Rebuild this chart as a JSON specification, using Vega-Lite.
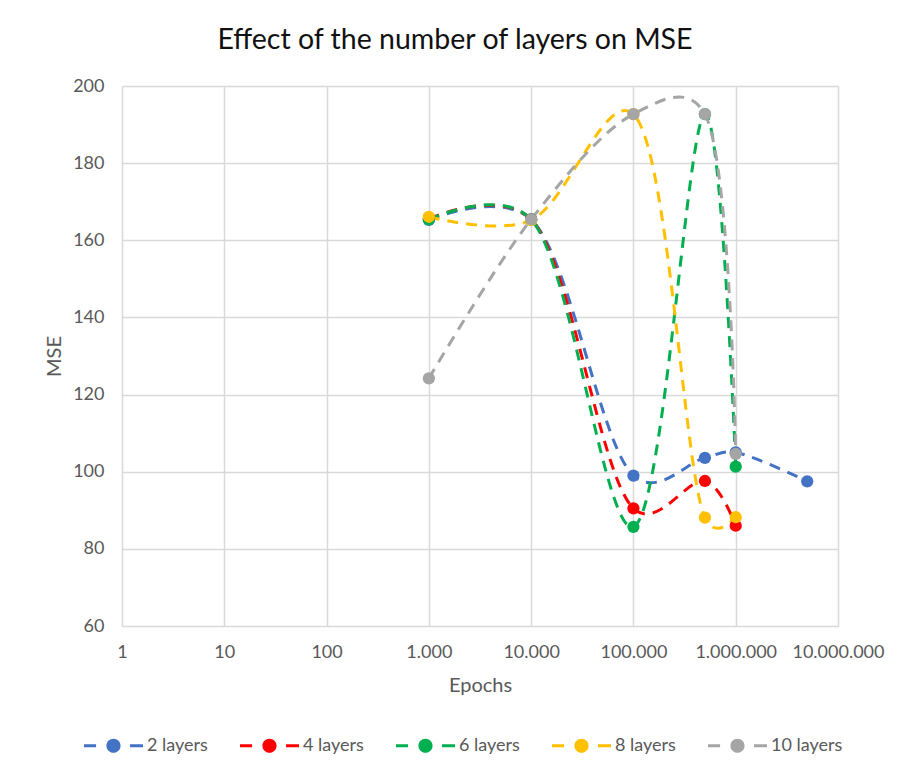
{
  "$schema": "https://vega.github.io/schema/vega-lite/v6.json",
  "width": 716,
  "height": 540,
  "autosize": {"type": "none"},
  "padding": {"left": 122, "top": 86, "right": 63, "bottom": 147},
  "background": "white",
  "config": {
    "font": "Lato",
    "view": {"stroke": null},
    "locale": {
      "number": {"decimal": ",", "thousands": ".", "grouping": [3], "currency": ["", " €"]}
    },
    "axis": {
      "labelColor": "#595959",
      "titleColor": "#595959",
      "labelFont": "Lato",
      "titleFont": "Lato",
      "labelFontSize": 18,
      "titleFontSize": 20,
      "titleFontWeight": "normal",
      "gridColor": "#D9D9D9",
      "gridWidth": 1.5,
      "domain": false,
      "ticks": false,
      "labelOverlap": false,
      "labelBound": false,
      "labelFlush": false
    },
    "legend": {
      "orient": "none",
      "legendX": -38,
      "legendY": 630,
      "direction": "horizontal",
      "labelFont": "Lato",
      "labelFontSize": 18,
      "labelColor": "#595959",
      "labelOffset": 4,
      "columnPadding": 32,
      "padding": 0
    }
  },
  "title": {
    "text": "Effect of the number of layers on MSE",
    "font": "Lato",
    "fontSize": 28.5,
    "fontWeight": "normal",
    "color": "#111111",
    "anchor": "middle",
    "dx": -25,
    "offset": 23
  },
  "data": {
    "values": [
      {"series": "2 layers", "epochs": 1000, "mse": 165.3},
      {"series": "2 layers", "epochs": 10000, "mse": 165.4},
      {"series": "2 layers", "epochs": 100000, "mse": 99.0},
      {"series": "2 layers", "epochs": 500000, "mse": 103.6},
      {"series": "2 layers", "epochs": 1000000, "mse": 105.0},
      {"series": "2 layers", "epochs": 5000000, "mse": 97.5},
      {"series": "4 layers", "epochs": 1000, "mse": 165.6},
      {"series": "4 layers", "epochs": 10000, "mse": 165.4},
      {"series": "4 layers", "epochs": 100000, "mse": 90.5},
      {"series": "4 layers", "epochs": 500000, "mse": 97.6},
      {"series": "4 layers", "epochs": 1000000, "mse": 86.0},
      {"series": "6 layers", "epochs": 1000, "mse": 165.4},
      {"series": "6 layers", "epochs": 10000, "mse": 165.4},
      {"series": "6 layers", "epochs": 100000, "mse": 85.7},
      {"series": "6 layers", "epochs": 500000, "mse": 192.7},
      {"series": "6 layers", "epochs": 1000000, "mse": 101.3},
      {"series": "8 layers", "epochs": 1000, "mse": 166.1},
      {"series": "8 layers", "epochs": 10000, "mse": 165.2},
      {"series": "8 layers", "epochs": 100000, "mse": 192.7},
      {"series": "8 layers", "epochs": 500000, "mse": 88.1},
      {"series": "8 layers", "epochs": 1000000, "mse": 88.2},
      {"series": "10 layers", "epochs": 1000, "mse": 124.2},
      {"series": "10 layers", "epochs": 10000, "mse": 165.4},
      {"series": "10 layers", "epochs": 100000, "mse": 192.7},
      {"series": "10 layers", "epochs": 500000, "mse": 192.7},
      {"series": "10 layers", "epochs": 1000000, "mse": 104.6}
    ]
  },
  "encoding": {
    "x": {
      "field": "epochs",
      "type": "quantitative",
      "scale": {"type": "log", "domain": [1, 10000000], "nice": false},
      "axis": {
        "values": [1, 10, 100, 1000, 10000, 100000, 1000000, 10000000],
        "format": ",d",
        "title": "Epochs",
        "grid": true,
        "labelPadding": 17,
        "titlePadding": 14
      }
    },
    "y": {
      "field": "mse",
      "type": "quantitative",
      "scale": {"domain": [60, 200], "nice": false, "zero": false},
      "axis": {
        "values": [60, 80, 100, 120, 140, 160, 180, 200],
        "title": "MSE",
        "grid": true,
        "labelPadding": 18,
        "titlePadding": 8
      }
    },
    "color": {
      "field": "series",
      "type": "nominal",
      "scale": {
        "domain": ["2 layers", "4 layers", "6 layers", "8 layers", "10 layers"],
        "range": ["#4472C4", "#FF0000", "#00B050", "#FFC000", "#A5A5A5"]
      },
      "legend": {
        "title": null,
        "symbolType": "M-1,-0.05H-0.59V0.05H-1Z M0.56,-0.05H1V0.05H0.56Z M0.24,0A0.24,0.24,0,1,1,-0.24,0A0.24,0.24,0,1,1,0.24,0Z",
        "symbolSize": 3481,
        "symbolStrokeWidth": 0,
        "encode": {
          "symbols": {
            "update": {
              "fill": {"scale": "color", "field": "value"},
              "opacity": {"value": 1}
            }
          }
        }
      }
    }
  },
  "layer": [
    {
      "mark": {
        "type": "line",
        "interpolate": "catmull-rom",
        "tension": 0.25,
        "strokeDash": [11, 8],
        "strokeWidth": 3
      },
      "encoding": {}
    },
    {
      "mark": {"type": "point", "filled": true, "shape": "circle", "size": 150, "opacity": 1}
    }
  ]
}
